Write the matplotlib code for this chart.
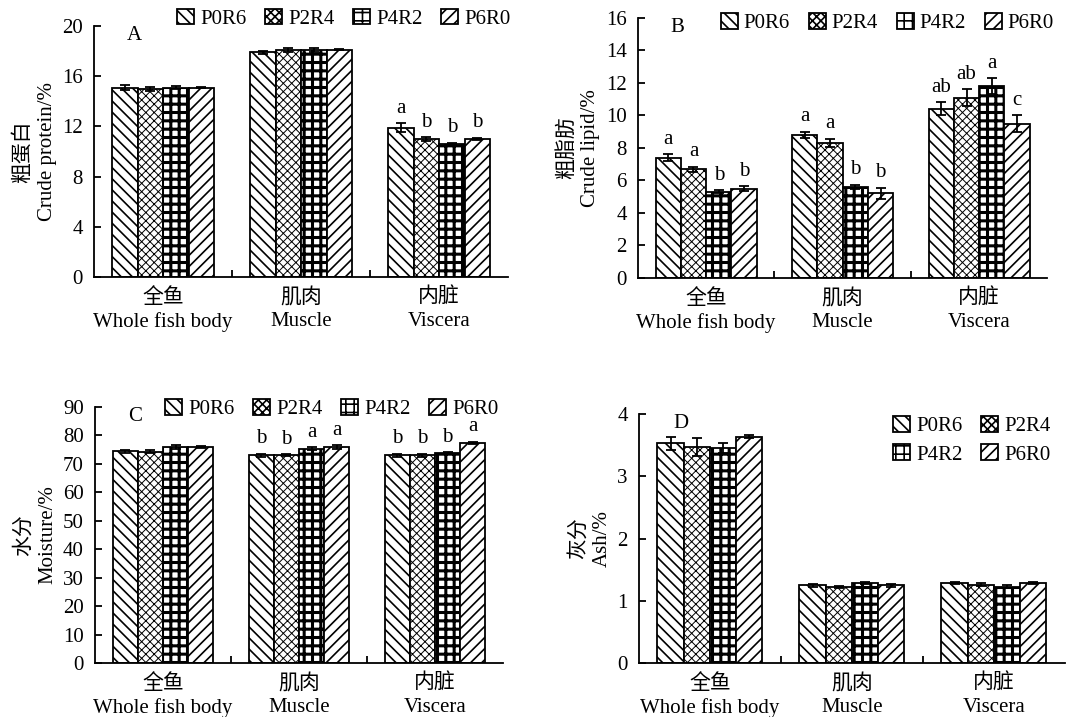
import numpy as np
import matplotlib
matplotlib.use("Agg")
import matplotlib.pyplot as plt

plt.rcParams['font.family'] = ['Liberation Serif', 'Noto Sans CJK SC', 'DejaVu Sans']
plt.rcParams['font.size'] = 15
plt.rcParams['hatch.linewidth'] = 1.2
plt.rcParams['axes.linewidth'] = 1.3

groups = ['全鱼\nWhole fish body', '肌肉\nMuscle', '内脏\nViscera']
diets = ['P0R6', 'P2R4', 'P4R2', 'P6R0']
hatches = ['\\\\\\', 'xxxx', '++', '///']
hatch_lw = [1.2, 0.7, 2.2, 1.2]

# crude protein, rows = diets, cols = groups
protein = [[15.1, 17.9, 11.9],
           [15.0, 18.1, 11.0],
           [15.1, 18.1, 10.6],
           [15.1, 18.1, 11.0]]
protein_err = [[0.2, 0.1, 0.35],
               [0.15, 0.15, 0.15],
               [0.15, 0.15, 0.1],
               [0.05, 0.05, 0.1]]
protein_sig = [['', '', 'a'], ['', '', 'b'], ['', '', 'b'], ['', '', 'b']]

# crude lipid
lipid = [[7.4, 8.8, 10.4],
         [6.7, 8.3, 11.1],
         [5.3, 5.6, 11.8],
         [5.5, 5.2, 9.5]]
lipid_err = [[0.2, 0.2, 0.4],
             [0.15, 0.25, 0.5],
             [0.1, 0.15, 0.5],
             [0.15, 0.35, 0.5]]
lipid_sig = [['a', 'a', 'ab'], ['a', 'a', 'ab'], ['b', 'b', 'a'], ['b', 'b', 'c']]

# moisture
moisture = [[74.4, 73.1, 73.1],
            [74.3, 73.1, 73.1],
            [75.9, 75.4, 73.8],
            [75.9, 75.9, 77.3]]
moisture_err = [[0.5, 0.5, 0.5],
                [0.5, 0.3, 0.5],
                [0.6, 0.5, 0.3],
                [0.4, 0.6, 0.4]]
moisture_sig = [['', 'b', 'b'], ['', 'b', 'b'], ['', 'a', 'b'], ['', 'a', 'a']]

# ash
ash = [[3.53, 1.25, 1.29],
       [3.47, 1.22, 1.26],
       [3.46, 1.29, 1.23],
       [3.64, 1.25, 1.29]]
ash_err = [[0.11, 0.02, 0.02],
           [0.14, 0.02, 0.02],
           [0.08, 0.02, 0.02],
           [0.03, 0.02, 0.02]]
ash_sig = [['', '', ''], ['', '', ''], ['', '', ''], ['', '', '']]

fig = plt.figure(figsize=(10.81, 7.17), dpi=100)

panels = [
    # rect, data, err, sig, ylabel, yticks, letter, legend anchor, ncol
    ([0.087, 0.6137, 0.383, 0.350], protein, protein_err, protein_sig,
     '粗蛋白\nCrude protein/%', np.arange(0, 21, 4), 'A', (0.318, 0.974), 4),
    ([0.590, 0.6123, 0.379, 0.3626], lipid, lipid_err, lipid_sig,
     '粗脂肪\nCrude lipid/%', np.arange(0, 17, 2), 'B', (0.821, 0.968), 4),
    ([0.0879, 0.0753, 0.3774, 0.357], moisture, moisture_err, moisture_sig,
     '水分\nMoisture/%', np.arange(0, 91, 10), 'C', (0.307, 0.430), 4),
    ([0.5911, 0.0753, 0.394, 0.347], ash, ash_err, ash_sig,
     '灰分\nAsh/%', np.arange(0, 5, 1), 'D', (0.899, 0.386), 2),
]

w = 0.185
centers = np.arange(3) + 0.5

for rect, vals, errs, sigs, ylab, yt, letter, anchor, ncol in panels:
    ax = fig.add_axes(rect)
    handles = []
    for i, d in enumerate(diets):
        x = centers + (i - 1.5) * w
        bars = ax.bar(x, vals[i], width=w, color='white', edgecolor='black',
                      linewidth=1.3, hatch=hatches[i], label=d, zorder=2)
        for b in bars:
            b.set_hatch_linewidth(hatch_lw[i])
        handles.append(bars)
        ax.errorbar(x, vals[i], yerr=errs[i], fmt='none', ecolor='black',
                    elinewidth=1.3, capsize=3.5, capthick=1.3, zorder=3)
        for j in range(3):
            if sigs[i][j]:
                ax.annotate(sigs[i][j], (x[j], vals[i][j] + errs[i][j]),
                            xytext=(0, 4), textcoords='offset points',
                            ha='center', va='bottom', fontsize=15)
    ax.set_xlim(0, 3)
    ax.set_ylim(0, yt[-1])
    ax.set_yticks(yt)
    ax.set_xticks([1, 2])
    ax.set_xticklabels([])
    ax.set_xticks(centers, minor=True)
    ax.set_xticklabels(groups, minor=True, linespacing=1.3)
    ax.tick_params(axis='x', which='major', direction='in', length=5, width=1.3)
    ax.tick_params(axis='x', which='minor', length=0, pad=8)
    ax.tick_params(axis='y', direction='in', length=5, width=1.3, pad=8)
    ax.spines['top'].set_visible(False)
    ax.spines['right'].set_visible(False)
    ax.set_ylabel(ylab, linespacing=1.3)
    ax.text(0.08, 1.0, letter, transform=ax.transAxes, ha='left', va='top', fontsize=15)
    if ncol == 2:
        order = [0, 2, 1, 3]
    else:
        order = [0, 1, 2, 3]
    ax.legend([handles[k] for k in order], [diets[k] for k in order],
              loc='center', bbox_to_anchor=anchor, bbox_transform=fig.transFigure,
              ncol=ncol, frameon=False, handlelength=0.8, handleheight=0.8,
              handletextpad=0.3, columnspacing=0.9, borderpad=0.2, labelspacing=0.4)

fig.savefig('out.png', dpi=100)
